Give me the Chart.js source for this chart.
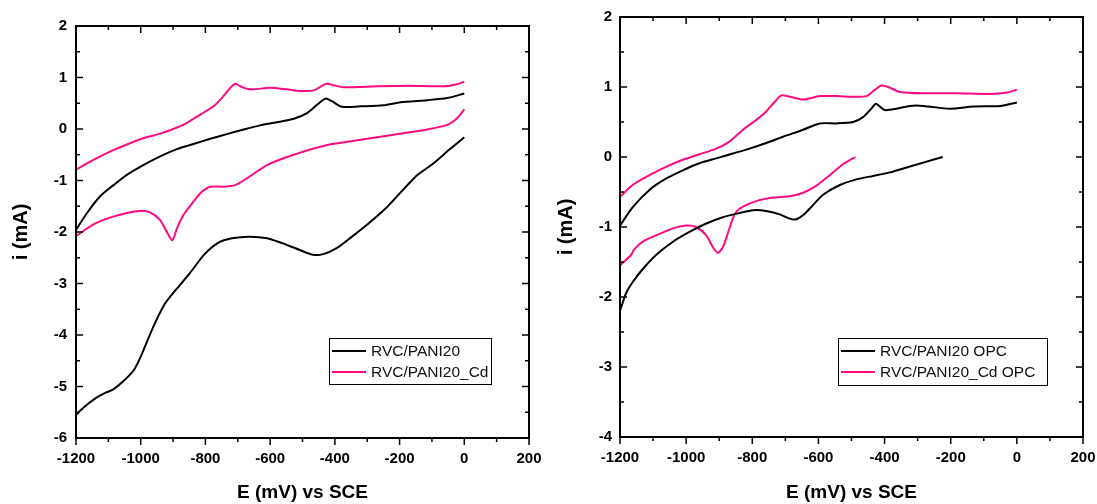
<!DOCTYPE html>
<html>
<head>
<meta charset="utf-8">
<script src="https://cdn.jsdelivr.net/npm/chart.js@4.4.0/dist/chart.umd.min.js"></script>
<style>
  body { margin: 0; background: #fff; }
  .wrap { display: flex; width: 1097px; height: 504px; }
</style>
</head>
<body>
<div class="wrap">
  <canvas id="left" width="550" height="504"></canvas>
  <canvas id="right" width="547" height="504"></canvas>
</div>
<script>
// left panel: RVC/PANI20 and RVC/PANI20_Cd
const leftBlackFwdE = [-1200,-1167,-1126,-1084,-1043,-992,-940,-888,-837,-785,-734,-682,-631,-579,-527,-486,-455,-429,-409,-378,-321,-249,-197,-115,-53,0]
const leftBlackFwdI = [-1.96,-1.64,-1.31,-1.09,-0.89,-0.70,-0.53,-0.39,-0.29,-0.19,-0.10,-0.01,0.07,0.13,0.20,0.31,0.47,0.59,0.54,0.43,0.44,0.46,0.52,0.56,0.60,0.69]
const leftBlackRevE = [0,-46,-100,-144,-165,-198,-241,-295,-349,-393,-436,-469,-512,-566,-609,-664,-718,-761,-804,-848,-891,-924,-956,-978,-1000,-1021,-1054,-1086,-1108,-1140,-1173,-1200]
const leftBlackRevI = [-0.16,-0.40,-0.69,-0.89,-1.02,-1.24,-1.53,-1.83,-2.10,-2.31,-2.43,-2.44,-2.34,-2.21,-2.12,-2.09,-2.12,-2.21,-2.44,-2.80,-3.12,-3.38,-3.77,-4.09,-4.42,-4.68,-4.90,-5.06,-5.12,-5.23,-5.39,-5.55]
const leftPinkFwdE = [-1200,-1146,-1095,-1043,-992,-940,-899,-857,-816,-775,-744,-723,-708,-692,-672,-651,-600,-548,-507,-465,-445,-426,-404,-373,-269,-166,-63,-22,0]
const leftPinkFwdI = [-0.79,-0.60,-0.44,-0.30,-0.18,-0.09,0.00,0.12,0.28,0.44,0.64,0.80,0.88,0.83,0.78,0.77,0.80,0.77,0.74,0.75,0.82,0.88,0.85,0.81,0.83,0.84,0.83,0.87,0.92]
const leftPinkRevE = [0,-22,-53,-115,-218,-321,-424,-527,-610,-672,-708,-744,-785,-811,-837,-868,-888,-902,-914,-940,-971,-1002,-1043,-1095,-1146,-1200]
const leftPinkRevI = [0.38,0.21,0.08,-0.01,-0.11,-0.21,-0.31,-0.50,-0.70,-0.96,-1.09,-1.12,-1.12,-1.22,-1.41,-1.67,-1.93,-2.16,-2.06,-1.77,-1.62,-1.59,-1.63,-1.72,-1.85,-2.08]

// right panel: OPC
const rightBlackFwdE = [-1200,-1162,-1111,-1061,-1010,-960,-909,-859,-808,-758,-707,-646,-596,-545,-495,-465,-444,-426,-414,-399,-364,-323,-283,-202,-131,-50,0]
const rightBlackFwdI = [-0.98,-0.72,-0.47,-0.31,-0.19,-0.09,-0.02,0.05,0.12,0.20,0.29,0.39,0.48,0.48,0.50,0.57,0.67,0.76,0.72,0.67,0.69,0.73,0.73,0.69,0.72,0.73,0.78]
const rightBlackRevE = [-224,-283,-333,-384,-434,-485,-535,-586,-621,-646,-667,-687,-717,-758,-798,-838,-889,-939,-990,-1040,-1091,-1131,-1162,-1182,-1200]
const rightBlackRevI = [0.00,-0.08,-0.15,-0.22,-0.27,-0.32,-0.40,-0.54,-0.71,-0.83,-0.89,-0.88,-0.82,-0.77,-0.76,-0.80,-0.86,-0.95,-1.07,-1.21,-1.40,-1.60,-1.79,-1.95,-2.20]
const rightPinkFwdE = [-1200,-1162,-1111,-1061,-1010,-960,-909,-869,-828,-788,-758,-732,-712,-687,-646,-596,-545,-495,-455,-429,-409,-389,-354,-283,-182,-81,-30,0]
const rightPinkFwdI = [-0.57,-0.40,-0.26,-0.14,-0.04,0.04,0.12,0.22,0.39,0.53,0.65,0.79,0.88,0.86,0.82,0.87,0.87,0.86,0.87,0.96,1.02,1.00,0.93,0.91,0.91,0.90,0.92,0.96]
const rightPinkRevE = [-488,-525,-566,-606,-646,-687,-737,-788,-828,-848,-859,-874,-889,-904,-919,-939,-970,-1000,-1040,-1091,-1131,-1157,-1167,-1200]
const rightPinkRevI = [0.00,-0.10,-0.26,-0.41,-0.51,-0.56,-0.58,-0.63,-0.71,-0.78,-0.88,-1.09,-1.29,-1.37,-1.29,-1.12,-1.00,-0.98,-1.02,-1.12,-1.21,-1.32,-1.40,-1.55]

const leftLabels = ['RVC/PANI20', 'RVC/PANI20_Cd']
const rightLabels = ['RVC/PANI20 OPC', 'RVC/PANI20_Cd OPC']

const black = '#000000'
const pink = '#ff0a82'

Chart.defaults.font.family = '"Liberation Sans", Arial, sans-serif'
Chart.defaults.color = '#000'

function curve(label, color, es, is){
  return {
    label: label,
    data: es.map((e, k) => ({x: e, y: is[k]})),
    borderColor: color,
    borderWidth: 2,
    pointRadius: 0,
    showLine: true,
    tension: 0.25,
    fill: false
  }
}

// frame + ticks (bottom ticks outward, the others inward)
const axisTicks = {
  id: 'axisTicks',
  afterDatasetsDraw(chart){
    const {ctx, chartArea: a, scales} = chart
    const x = scales.x, y = scales.y
    ctx.save()
    ctx.strokeStyle = '#000'
    ctx.lineWidth = 1.5
    ctx.beginPath()
    for (let v = x.min; v <= x.max; v += 100) {
      const px = x.getPixelForValue(v)
      const len = v % 200 === 0 ? 7 : 4
      ctx.moveTo(px, a.bottom); ctx.lineTo(px, a.bottom + len)
      ctx.moveTo(px, a.top); ctx.lineTo(px, a.top + len)
    }
    for (let v = y.min; v <= y.max + 1e-9; v += 0.5) {
      const py = y.getPixelForValue(v)
      const len = Number.isInteger(v) ? 7 : 4
      ctx.moveTo(a.left, py); ctx.lineTo(a.left + len, py)
      ctx.moveTo(a.right, py); ctx.lineTo(a.right - len, py)
    }
    ctx.stroke()
    ctx.lineWidth = 2
    ctx.strokeRect(a.left, a.top, a.right - a.left, a.bottom - a.top)
    ctx.restore()
  }
}

// boxed legend, one entry per colour
const boxLegend = {
  id: 'boxLegend',
  afterDraw(chart, args, opts){
    const ctx = chart.ctx
    ctx.save()
    ctx.fillStyle = '#fff'
    ctx.fillRect(opts.x, opts.y, opts.w, opts.h)
    ctx.strokeStyle = '#000'
    ctx.lineWidth = 1
    ctx.strokeRect(opts.x + 0.5, opts.y + 0.5, opts.w, opts.h)
    ctx.font = '15.5px "Liberation Sans", Arial, sans-serif'
    ctx.textBaseline = 'middle'
    opts.labels.forEach((txt, k) => {
      const ly = opts.y + 13 + k * 21
      ctx.strokeStyle = opts.colors[k]
      ctx.lineWidth = 2
      ctx.beginPath()
      ctx.moveTo(opts.x + 3, ly)
      ctx.lineTo(opts.x + 37, ly)
      ctx.stroke()
      ctx.fillStyle = '#111'
      ctx.fillText(txt, opts.x + 42, ly + 1)
    })
    ctx.restore()
  }
}

function makeChart(id, datasets, yMin, geo, legend){
  const ctx = document.getElementById(id).getContext('2d')
  return new Chart(ctx, {
    type: 'scatter',
    data: { datasets },
    options: {
      responsive: false,
      animation: false,
      devicePixelRatio: 1,
      layout: { padding: { left: 0, top: geo.top, right: geo.right, bottom: 0 } },
      plugins: {
        legend: { display: false },
        tooltip: { enabled: false },
        boxLegend: legend
      },
      scales: {
        x: {
          min: -1200, max: 200,
          grid: { display: false, drawTicks: false },
          border: { display: false },
          ticks: {
            stepSize: 200, padding: 12,
            font: { size: 15, weight: 'bold' },
            callback: v => String(v)
          },
          title: {
            display: true, text: 'E (mV) vs SCE',
            font: { size: 19, weight: 'bold' },
            padding: { top: 0, bottom: 0 }
          },
          afterFit: s => { s.height = geo.xh; s.paddingLeft = 0; s.paddingRight = 0 }
        },
        y: {
          min: yMin, max: 2,
          grid: { display: false, drawTicks: false },
          border: { display: false },
          ticks: {
            stepSize: 1, padding: geo.ypad,
            font: { size: 15, weight: 'bold' },
            callback: v => String(v)
          },
          title: {
            display: true, text: 'i (mA)',
            font: { size: 20, weight: 'bold' },
            padding: { top: geo.tpad, bottom: 0 }
          },
          afterFit: s => { s.width = geo.yw; s.paddingTop = 0; s.paddingBottom = 0 }
        }
      }
    },
    plugins: [axisTicks, boxLegend]
  })
}

const leftChart = makeChart('left', [
  curve(leftLabels[0], black, leftBlackFwdE, leftBlackFwdI),
  curve(leftLabels[0], black, leftBlackRevE, leftBlackRevI),
  curve(leftLabels[1], pink, leftPinkFwdE, leftPinkFwdI),
  curve(leftLabels[1], pink, leftPinkRevE, leftPinkRevI)
], -6,
  { top: 26, right: 21, xh: 66, yw: 76, ypad: 9, tpad: 9 },
  { x: 329, y: 338, w: 162, h: 46, labels: leftLabels, colors: [black, pink] })

const rightChart = makeChart('right', [
  curve(rightLabels[0], black, rightBlackFwdE, rightBlackFwdI),
  curve(rightLabels[0], black, rightBlackRevE, rightBlackRevI),
  curve(rightLabels[1], pink, rightPinkFwdE, rightPinkFwdI),
  curve(rightLabels[1], pink, rightPinkRevE, rightPinkRevI)
], -4,
  { top: 17, right: 14, xh: 67, yw: 70, ypad: 8, tpad: 4 },
  { x: 288, y: 338, w: 209, h: 47, labels: rightLabels, colors: [black, pink] })
</script>
</body>
</html>
